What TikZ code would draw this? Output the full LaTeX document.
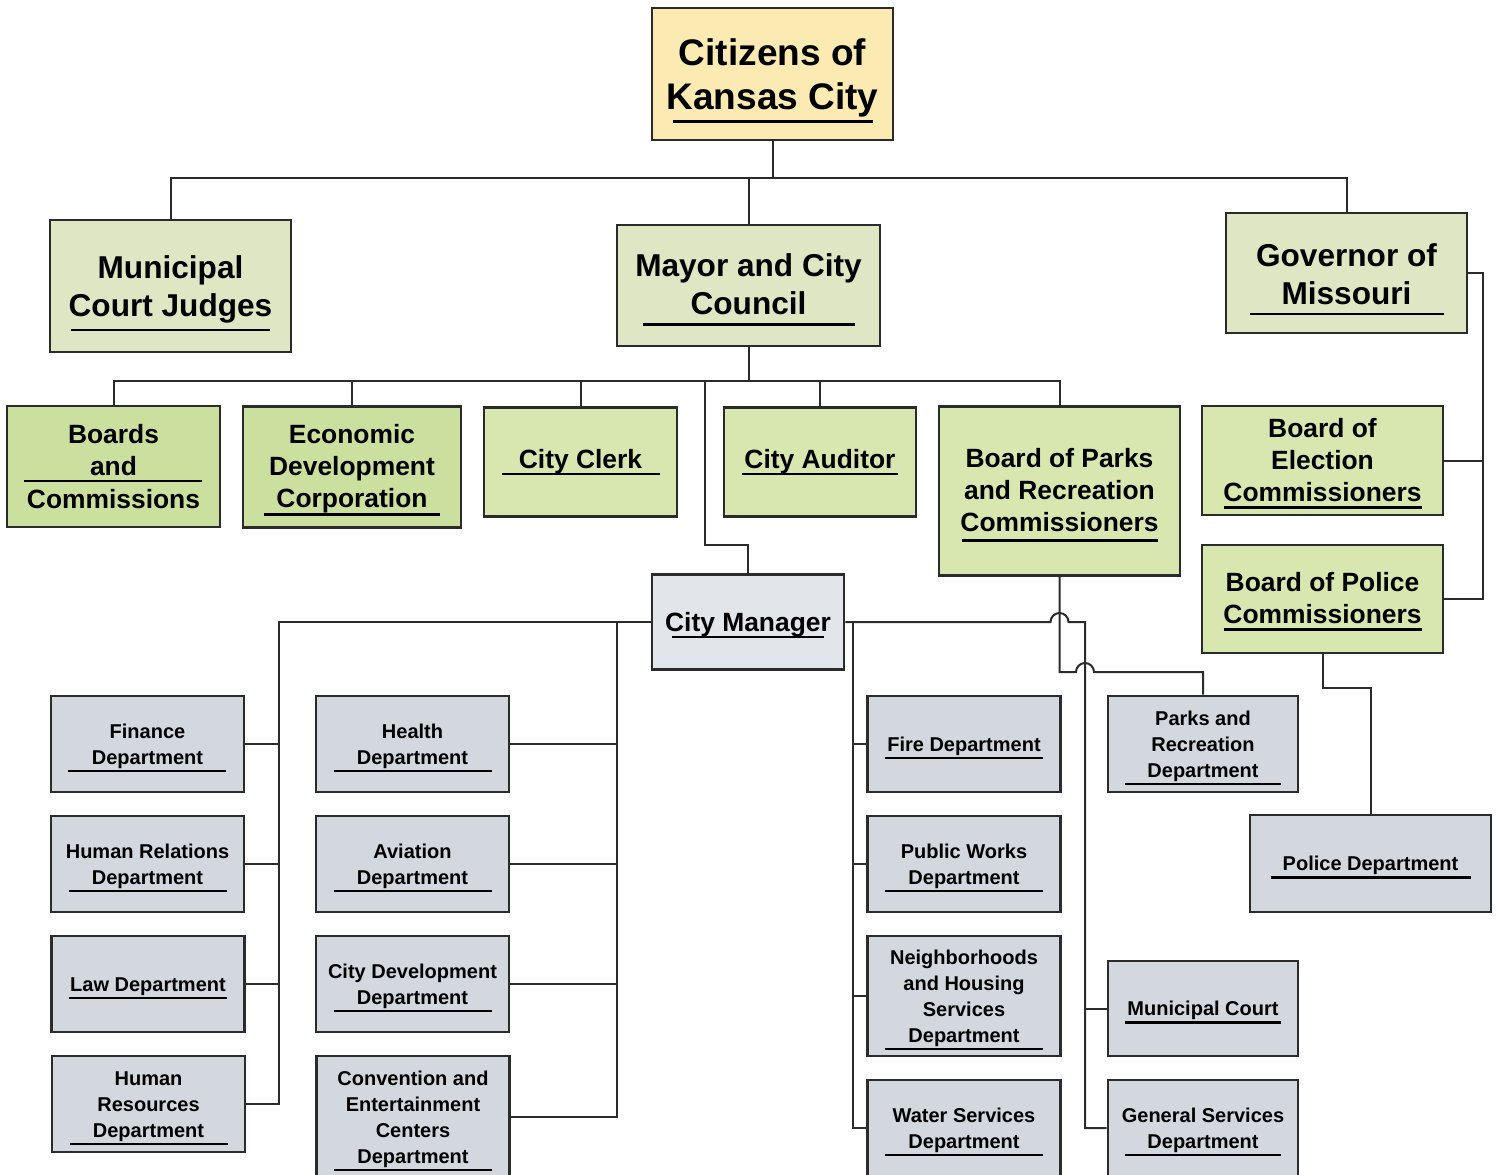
\documentclass[tikz,border=0pt]{standalone}
\usepackage{fontspec}
\setmainfont{Liberation Sans}
\newcommand{\ulr}[1]{\rule{#1}{1.2pt}}
\newcommand{\tpz}[1]{\rule{0pt}{#1}}
\newcommand{\dz}{\rule{0pt}{11.3pt}}
\definecolor{ln}{HTML}{2B2B2B}
\definecolor{yel}{HTML}{FBEAB2}
\definecolor{gA}{HTML}{DEE6C4}
\definecolor{gB}{HTML}{CBDF9E}
\definecolor{gC}{HTML}{D8E6B0}
\definecolor{gr}{HTML}{D3D8DE}
\definecolor{grl}{HTML}{E2E6EB}
\tikzset{
 box/.style={draw=ln, line width=1.3pt, inner sep=0pt, align=center},
 topbox/.style={box, fill=yel, font=\fontsize{18.5}{22}\selectfont\bfseries},
 lvA/.style={box, fill=gA, font=\fontsize{15.8}{19}\selectfont\bfseries},
 lvB/.style={box, fill=gB, font=\fontsize{13.2}{16}\selectfont\bfseries},
 lvC/.style={box, fill=gC, font=\fontsize{13.2}{16}\selectfont\bfseries},
 cmbox/.style={box, fill=grl, font=\fontsize{13.2}{16}\selectfont\bfseries},
 dept/.style={box, fill=gr, minimum width=96.5pt, minimum height=48pt, font=\fontsize{10}{13}\selectfont\bfseries},
 conn/.style={draw=ln, line width=1pt},
}
\begin{document}
\begin{tikzpicture}[x=0.5pt,y=-0.5pt]
\clip (0,0) rectangle (1500,1174);
\fill[white] (0,0) rectangle (1500,1174);
% nodes
\node[topbox, minimum width=120.5pt, minimum height=66pt] (cit) at (772.5,74) {\tpz{20pt}Citizens of\\Kansas City\\[-15.5pt]\ulr{100pt}};
\node[lvA, minimum width=120.5pt, minimum height=66pt] (mun) at (170.5,286) {\tpz{18.5pt}Municipal\\Court Judges\\[-11.5pt]\ulr{100pt}};
\node[lvA, minimum width=131.5pt, minimum height=60.5pt] (mayor) at (748.5,285.5) {\tpz{15.5pt}Mayor and City\\Council\\[-13.5pt]\ulr{106pt}};
\node[lvA, minimum width=120.5pt, minimum height=60pt] (gov) at (1346.5,273) {\tpz{17.5pt}Governor of\\Missouri\\[-13.5pt]\ulr{97pt}};
\node[lvB, minimum width=106.5pt, minimum height=60.5pt] (boards) at (113.5,466.5) {Boards\\and\\[-12.5pt]\ulr{89pt}\\[-3pt]Commissions};
\node[lvB, minimum width=109pt, minimum height=60.5pt] (econ) at (352,467) {\tpz{12.5pt}Economic\\Development\\Corporation\\[-12pt]\ulr{88pt}};
\node[lvC, minimum width=96.5pt, minimum height=54.5pt] (clerk) at (580.5,462) {City Clerk\\[-12.5pt]\ulr{79pt}};
\node[lvC, minimum width=96pt, minimum height=54.5pt] (aud) at (820,462) {City Auditor\\[-12.5pt]\ulr{78pt}};
\node[lvC, minimum width=120.5pt, minimum height=84.5pt] (bpark) at (1059.5,491) {\tpz{13.5pt}Board of Parks\\and Recreation\\Commissioners\\[-11pt]\ulr{98pt}};
\node[lvC, minimum width=120.5pt, minimum height=54.5pt] (belec) at (1322.5,460.5) {\tpz{12.5pt}Board of\\Election\\Commissioners\\[-12.5pt]\ulr{99pt}};
\node[lvC, minimum width=120.5pt, minimum height=54pt] (bpol) at (1322.5,599) {\tpz{12pt}Board of Police\\Commissioners\\[-12.5pt]\ulr{99pt}};
\node[cmbox, minimum width=96pt, minimum height=47.5pt] (cm) at (748,622) {\tpz{12.5pt}City Manager\\[-12.5pt]\ulr{76pt}};
% departments
\node[dept] (fin) at (147.5,744) {\dz Finance\\Department\\[-9pt]\ulr{79pt}};
\node[dept] (hrel) at (147.5,864) {\dz Human Relations\\Department\\[-9pt]\ulr{79pt}};
\node[dept] (law) at (148,984) {\dz Law Department\\[-9pt]\ulr{79pt}};
\node[dept] (hres) at (148.5,1104) {\dz Human\\Resources\\Department\\[-9pt]\ulr{79pt}};
\node[dept] (health) at (412.5,744) {\dz Health\\Department\\[-9pt]\ulr{79pt}};
\node[dept] (avi) at (412.5,864) {\dz Aviation\\Department\\[-9pt]\ulr{79pt}};
\node[dept] (cdev) at (412.5,984) {\dz City Development\\Department\\[-9pt]\ulr{79pt}};
\node[dept, minimum height=61pt] (conv) at (413,1117) {\dz Convention and\\Entertainment\\Centers\\Department\\[-9pt]\ulr{79pt}};
\node[dept] (fire) at (964,744) {\dz Fire Department\\[-9pt]\ulr{79pt}};
\node[dept] (pw) at (964,864) {\dz Public Works\\Department\\[-9pt]\ulr{79pt}};
\node[dept, minimum height=60pt] (nbh) at (964,996) {\dz Neighborhoods\\and Housing\\Services\\Department\\[-9pt]\ulr{79pt}};
\node[dept] (water) at (964,1128) {\dz Water Services\\Department\\[-9pt]\ulr{79pt}};
\node[dept, minimum width=95pt] (parks) at (1203,744) {\dz Parks and\\Recreation\\Department\\[-9pt]\ulr{78pt}};
\node[dept, minimum width=95pt, minimum height=47.5pt] (mcourt) at (1203,1008.5) {\dz Municipal Court\\[-9pt]\ulr{78pt}};
\node[dept, minimum width=95pt] (gensvc) at (1203,1128) {\dz General Services\\Department\\[-9pt]\ulr{78pt}};
\node[dept, minimum width=120.5pt, minimum height=48.5pt] (pdept) at (1370.5,863.5) {\dz Police Department\\[-9pt]\ulr{100pt}};
% connectors top
\coordinate (j1) at (773,178);
\draw[conn] (cit.south) -- (cit.south |- j1);
\draw[conn] (mun.north) |- (gov.north |- j1) -- (gov.north);
\draw[conn] (mayor.north) -- (mayor.north |- j1);
\coordinate (j2) at (748,381);
\draw[conn] (mayor.south) -- (mayor.south |- j2);
\draw[conn] (boards.north) |- (bpark.north |- j2) -- (bpark.north);
\draw[conn] (econ.north) -- (econ.north |- j2);
\draw[conn] (clerk.north) -- (clerk.north |- j2);
\draw[conn] (aud.north) -- (aud.north |- j2);
\coordinate (j3) at (705,381);
\coordinate (j4) at (705,545);
\draw[conn] (j3) -- (j4) -| (cm.north);
% governor
\coordinate (g1) at (1483,273);
\draw[conn] (gov.east) -| (g1 |- bpol.east) -- (bpol.east);
\draw[conn] (belec.east) -- (g1 |- belec.east);
\coordinate (p1) at (1323,688);
\draw[conn] (bpol.south) -- (bpol.south |- p1) -| (pdept.north);
% city manager left
\coordinate (L) at (279,622);
\coordinate (M) at (617,622);
\draw[conn] (cm.west) -| (L |- hres.east) -- (hres.east);
\draw[conn] (fin.east) -- (L |- fin.east);
\draw[conn] (hrel.east) -- (L |- hrel.east);
\draw[conn] (law.east) -- (L |- law.east);
\draw[conn] (M) -- (M |- conv.east) -- (conv.east);
\draw[conn] (health.east) -- (M |- health.east);
\draw[conn] (avi.east) -- (M |- avi.east);
\draw[conn] (cdev.east) -- (M |- cdev.east);
% city manager right
\coordinate (R1) at (853,622);
\coordinate (R2) at (1085,622);
\draw[conn] (cm.east) -- (1050.5,622) arc[start angle=180, end angle=360, radius=9] -- (R2) -- (R2 |- gensvc.west) -- (gensvc.west);
\draw[conn] (R1) -- (R1 |- water.west) -- (water.west);
\draw[conn] (fire.west) -- (R1 |- fire.west);
\draw[conn] (pw.west) -- (R1 |- pw.west);
\draw[conn] (nbh.west) -- (R1 |- nbh.west);
\draw[conn] (mcourt.west) -- (R2 |- mcourt.west);
\coordinate (h2) at (1060,672);
\draw[conn] (bpark.south) -- (bpark.south |- h2) -- (1076,672) arc[start angle=180, end angle=360, radius=9] -- (parks.north |- h2) -- (parks.north);
\end{tikzpicture}
\end{document}
